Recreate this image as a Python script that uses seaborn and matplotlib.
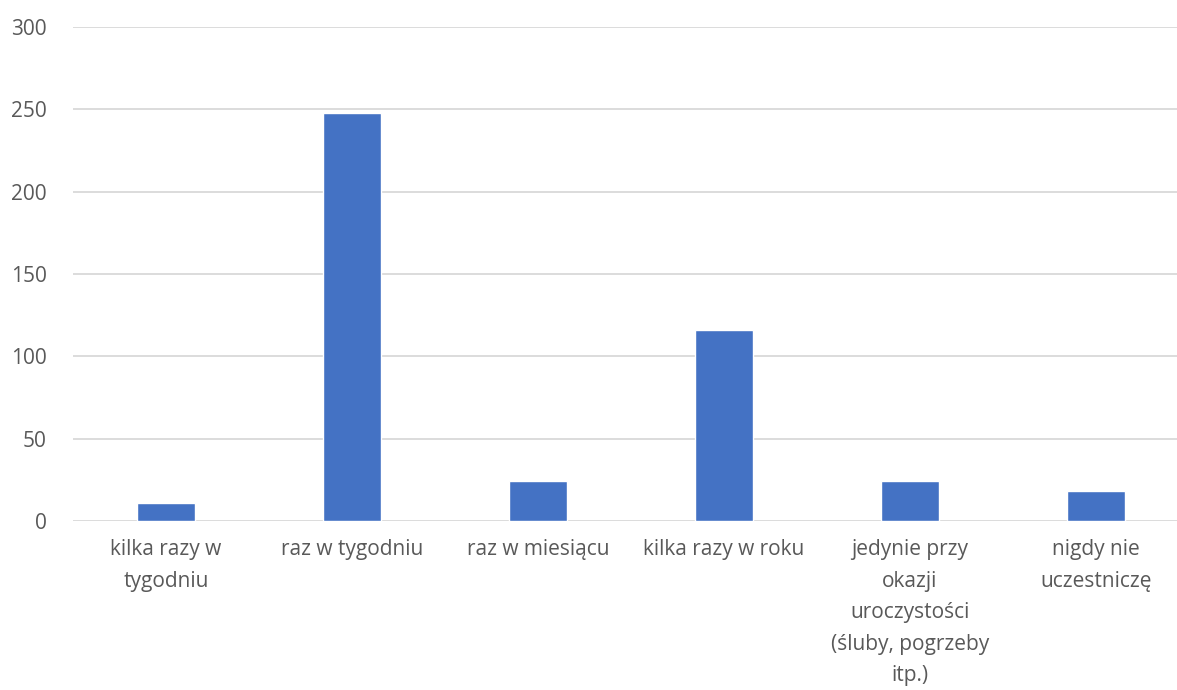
import matplotlib
matplotlib.use("Agg")
import matplotlib.pyplot as plt
import seaborn as sns
import pandas as pd

categories = [
    "kilka razy w\ntygodniu",
    "raz w tygodniu",
    "raz w miesiącu",
    "kilka razy w roku",
    "jedynie przy\nokazji\nuroczystości\n(śluby, pogrzeby\nitp.)",
    "nigdy nie\nuczestniczę",
]
values = [11, 248, 24, 116, 24, 18]
yticks = [0, 50, 100, 150, 200, 250, 300]

sns.set_theme(style="white")
plt.rcParams["font.family"] = ["Open Sans", "DejaVu Sans"]

df = pd.DataFrame({"kat": categories, "n": values})

fig = plt.figure(figsize=(11.77, 6.9), dpi=100)
ax = fig.add_axes([73 / 1177, 1 - 521 / 690, 1116 / 1177, (521 - 27) / 690])
sns.barplot(data=df, x="kat", y="n", color="#4472C4", saturation=1, width=0.31, ax=ax, zorder=3)

ax.set_ylim(0, 300)
ax.set_yticks(yticks)
ax.set_xlim(-0.5, len(categories) - 0.5)
ax.yaxis.grid(True, color="#D9D9D9", linewidth=1.3, zorder=0)
ax.set_axisbelow(True)
for s in ax.spines.values():
    s.set_visible(False)
ax.set_xlabel("")
ax.set_ylabel("")
ax.tick_params(axis="y", length=0, pad=19, labelsize=15, labelcolor="#595959")
ax.tick_params(axis="x", length=0, pad=13, labelsize=15, labelcolor="#595959")
for lbl in ax.get_xticklabels():
    lbl.set_linespacing(1.66)

fig.savefig("out.png", dpi=100)
